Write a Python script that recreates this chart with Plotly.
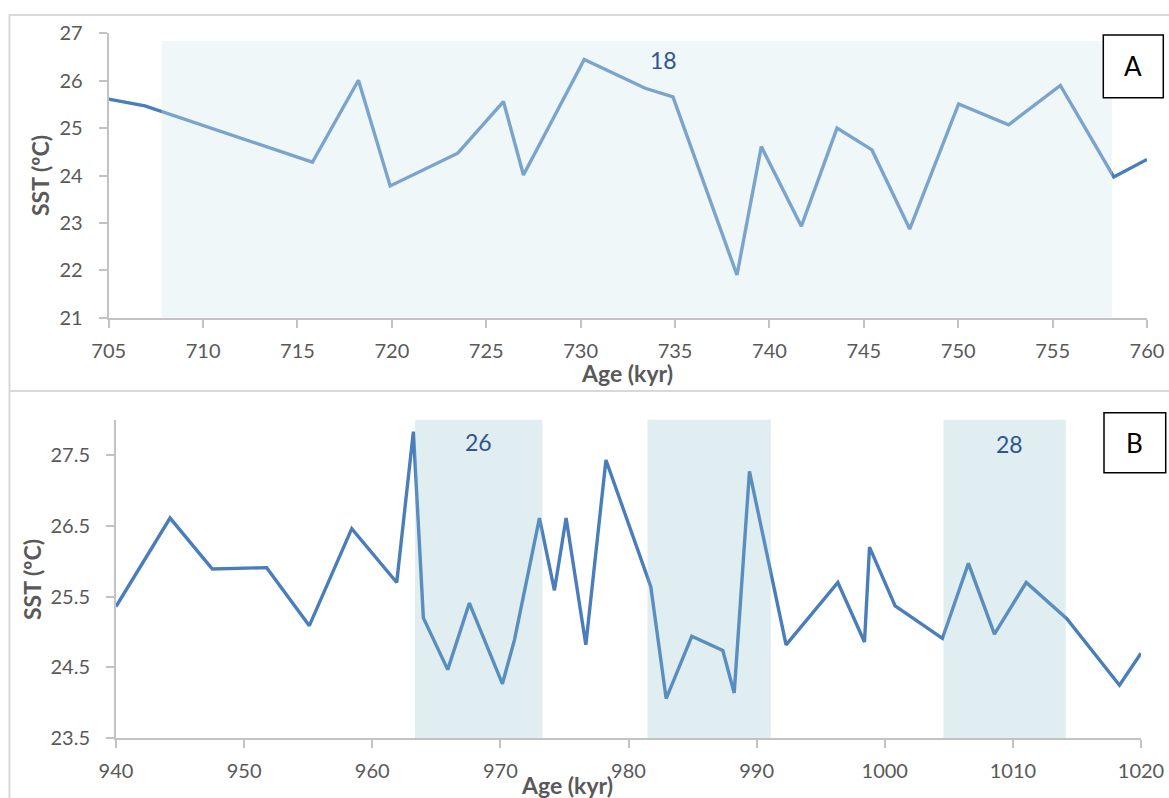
import plotly.graph_objects as go

# ---------------- data ----------------
age_a = [705.0, 706.92, 715.79, 718.23, 719.91, 723.49, 725.91, 726.97, 730.19, 733.42,
         734.89, 738.28, 739.57, 741.69, 743.58, 745.43, 747.43, 750.02, 752.67, 755.41,
         758.24, 760.0]
sst_a = [25.61, 25.47, 24.28, 26.01, 23.78, 24.47, 25.56, 24.01, 26.45, 25.84,
         25.66, 21.90, 24.61, 22.93, 25.00, 24.54, 22.87, 25.51, 25.07, 25.90,
         23.97, 24.34]

age_b = [940.0, 944.22, 947.52, 951.76, 955.09, 958.40, 961.91, 963.21, 963.99, 965.89,
         967.58, 970.16, 971.10, 973.05, 974.22, 975.13, 976.67, 978.24, 981.74, 982.94,
         984.94, 987.36, 988.25, 989.44, 992.30, 996.34, 998.42, 998.81, 1000.81, 1004.50,
         1006.53, 1008.56, 1011.04, 1014.21, 1018.32, 1020.0]
sst_b = [25.36, 26.61, 25.89, 25.91, 25.09, 26.46, 25.70, 27.83, 25.20, 24.47,
         25.41, 24.27, 24.89, 26.61, 25.59, 26.61, 24.82, 27.43, 25.64, 24.06,
         24.94, 24.74, 24.14, 27.27, 24.82, 25.70, 24.86, 26.20, 25.37, 24.91,
         25.97, 24.97, 25.70, 25.19, 24.25, 24.70]

# MIS stage bands (start, end, top) and labels
band_a_start = [707.8]
band_a_end = [758.15]
band_a_top = [26.84]
label_a_text = ["18"]
label_a_x = [734.4]
label_a_y = [26.44]

band_b_start = [963.34, 981.48, 1004.58]
band_b_end = [973.28, 991.11, 1014.13]
band_b_top = [28.0, 28.0, 28.0]
label_b_text = ["26", "28"]
label_b_x = [968.3, 1009.7]
label_b_y = [27.69, 27.65]

xticks_a = [705, 710, 715, 720, 725, 730, 735, 740, 745, 750, 755, 760]
yticks_a = [21, 22, 23, 24, 25, 26, 27]
xticks_b = [940, 950, 960, 970, 980, 990, 1000, 1010, 1020]
yticks_b = [23.5, 24.5, 25.5, 26.5, 27.5]

# ---------------- geometry helpers ----------------
W, H = 1169, 798


def px(xp):
    return xp / W


def py(yp):
    return 1 - yp / H


FONT = "Lato"
LINE_COLOR = "#4A7EBB"
AXIS_COLOR = "#C3C3C3"
TICK_FONT = dict(family=FONT, size=20, color="#595959")
LABEL_COLOR = "#2F5592"

fig = go.Figure()

fig.add_trace(go.Scatter(x=age_a, y=sst_a, mode="lines", xaxis="x", yaxis="y",
                         line=dict(color=LINE_COLOR, width=3.4), showlegend=False,
                         hoverinfo="x+y"))
fig.add_trace(go.Scatter(x=age_b, y=sst_b, mode="lines", xaxis="x2", yaxis="y2",
                         line=dict(color=LINE_COLOR, width=3.4), showlegend=False,
                         hoverinfo="x+y"))

shapes = []
# shaded bands (above lines, semi-transparent)
for s, e, t in zip(band_a_start, band_a_end, band_a_top):
    shapes.append(dict(type="rect", xref="x", yref="y", x0=s, x1=e, y0=21, y1=t,
                       fillcolor="rgba(211,233,238,0.36)", line=dict(width=0),
                       layer="above"))
for s, e, t in zip(band_b_start, band_b_end, band_b_top):
    shapes.append(dict(type="rect", xref="x2", yref="y2", x0=s, x1=e, y0=23.5, y1=t,
                       fillcolor="rgba(136,190,205,0.26)", line=dict(width=0),
                       layer="above"))

# chart frames (light gray)
frame = dict(color="#D9D9D9", width=2)
shapes.append(dict(type="line", xref="paper", yref="paper", x0=px(9.5), x1=px(9.5),
                   y0=py(15), y1=py(798), line=frame))
shapes.append(dict(type="line", xref="paper", yref="paper", x0=px(9), x1=px(1169),
                   y0=py(15), y1=py(15), line=frame))
shapes.append(dict(type="line", xref="paper", yref="paper", x0=px(9), x1=px(1169),
                   y0=py(391), y1=py(391), line=frame))

# panel letter boxes
shapes.append(dict(type="rect", xref="paper", yref="paper", x0=px(1103.3), x1=px(1163.3),
                   y0=py(97.7), y1=py(35), line=dict(color="black", width=1.5),
                   fillcolor="white"))
shapes.append(dict(type="rect", xref="paper", yref="paper", x0=px(1104), x1=px(1165.7),
                   y0=py(472.7), y1=py(412.7), line=dict(color="black", width=1.5),
                   fillcolor="white"))

C = dict(xanchor="center", yanchor="middle", showarrow=False)
annotations = []
for t, x, y in zip(label_a_text, label_a_x, label_a_y):
    annotations.append(dict(text=t, x=x, y=y, xref="x", yref="y",
                            font=dict(family=FONT, size=23, color=LABEL_COLOR), **C))
for t, x, y in zip(label_b_text, label_b_x, label_b_y):
    annotations.append(dict(text=t, x=x, y=y, xref="x2", yref="y2",
                            font=dict(family=FONT, size=23, color=LABEL_COLOR), **C))

annotations.append(dict(text="A", x=px(1133.3), y=py(66.3), xref="paper", yref="paper",
                        font=dict(family=FONT, size=26, color="black"), **C))
annotations.append(dict(text="B", x=px(1134.8), y=py(442.7), xref="paper", yref="paper",
                        font=dict(family=FONT, size=26, color="black"), **C))

title_font = dict(family=FONT, size=23, color="#595959")
annotations.append(dict(text="<b>Age (kyr)</b>", x=px(627), y=py(373), xref="paper",
                        yref="paper", font=title_font, **C))
annotations.append(dict(text="<b>Age (kyr)</b>", x=px(566.7), y=py(785), xref="paper",
                        yref="paper", font=title_font, **C))
annotations.append(dict(text="<b>SST (ºC)</b>", x=px(40), y=py(176), xref="paper",
                        yref="paper", textangle=-90, font=title_font, **C))
annotations.append(dict(text="<b>SST (ºC)</b>", x=px(32), y=py(580), xref="paper",
                        yref="paper", textangle=-90, font=title_font, **C))

axis_common = dict(showline=True, linecolor=AXIS_COLOR, linewidth=2, ticks="outside",
                   ticklen=8, tickwidth=2, tickcolor=AXIS_COLOR, showgrid=False,
                   zeroline=False, tickfont=TICK_FONT,
                   fixedrange=True, automargin=False)
XSTAND = 6
YSTAND = 12

fig.update_layout(
    template="none",
    width=W, height=H,
    autosize=False,
    margin=dict(l=0, r=0, t=0, b=0, pad=0, autoexpand=False),
    paper_bgcolor="white", plot_bgcolor="white",
    font=dict(family=FONT),
    xaxis=dict(domain=[px(108.7), px(1147)], range=[705, 760], tickvals=xticks_a,
               anchor="y", ticklabelstandoff=XSTAND, **axis_common),
    yaxis=dict(domain=[py(317.7), py(33.3)], range=[21, 27], tickvals=yticks_a,
               anchor="x", ticklabelstandoff=YSTAND, **axis_common),
    xaxis2=dict(domain=[px(116), px(1141)], range=[940, 1020], tickvals=xticks_b,
                anchor="y2", ticklabelstandoff=XSTAND, **axis_common),
    yaxis2=dict(domain=[py(738.3), py(419.6)], range=[23.5, 28], tickvals=yticks_b,
                tickformat=".1f", anchor="x2", ticklabelstandoff=YSTAND, **axis_common),
    shapes=shapes,
    annotations=annotations,
    showlegend=False,
)

# remove the default page margin so the figure fills the window exactly
fig.write_html("out.html",
               config={"displayModeBar": False},
               post_script="document.body.style.margin='0px';"
                           "document.body.style.overflow='hidden';")
